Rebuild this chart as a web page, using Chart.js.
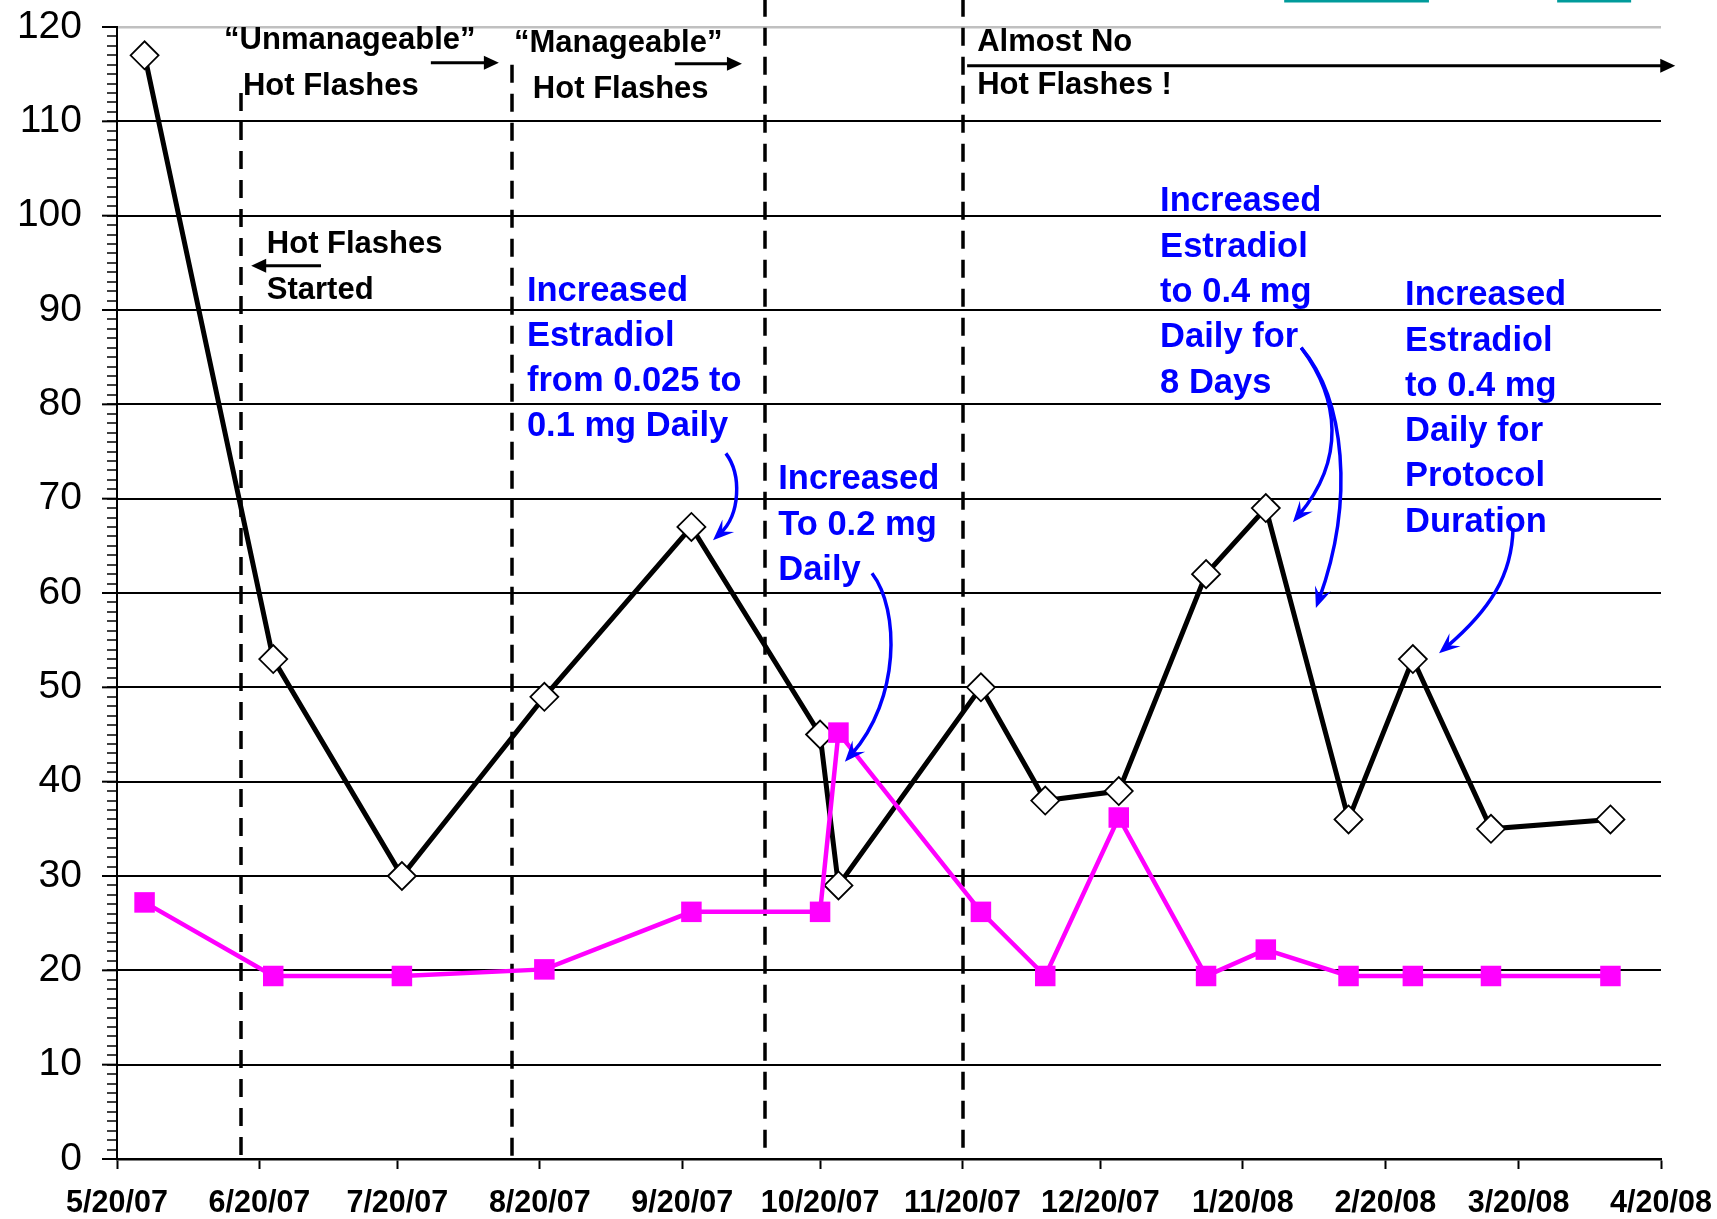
<!DOCTYPE html>
<html>
<head>
<meta charset="utf-8">
<script src="https://cdn.jsdelivr.net/npm/chart.js@4.4.1/dist/chart.umd.min.js"></script>
<style>
  body { margin: 0; background: #fff; }
  #wrap { width: 1717px; height: 1219px; }
</style>
</head>
<body>
<div id="wrap"><canvas id="chart" width="1717" height="1219"></canvas></div>
<script>
// visit dates and the two measured series
const visitDates = ['5/26/07', '6/23/07', '7/21/07', '8/21/07', '9/22/07', '10/20/07', '10/24/07', '11/24/07',
                    '12/8/07', '12/24/07', '1/12/08', '1/25/08', '2/12/08', '2/26/08', '3/14/08', '4/9/08'];
const hotFlashValues = [117, 53, 30, 49, 67, 45, 29, 50, 38, 39, 62, 69, 36, 53, 35, 36];
const magentaValues = [27.2, 19.4, 19.4, 20.1, 26.2, 26.2, 45.2, 26.2, 19.4, 36.2, 19.4, 22.2, 19.4, 19.4, 19.4, 19.4];

// x axis tick labels (one per month)
const tickDates = ['5/20/07', '6/20/07', '7/20/07', '8/20/07', '9/20/07', '10/20/07', '11/20/07', '12/20/07',
                   '1/20/08', '2/20/08', '3/20/08', '4/20/08'];

// dashed phase separators
const phaseDates = ['6/16/07', '8/14/07', '10/8/07', '11/20/07'];
const phaseTops = [113, 116, 123, 123];

const FONT = '"Liberation Sans", Arial, sans-serif';

function dayOf(s) {
  const [m, d, y] = s.split('/').map(Number);
  return (Date.UTC(2000 + y, m - 1, d) - Date.UTC(2007, 4, 20)) / 86400000;
}
const tickDays = tickDates.map(dayOf);
const visitDays = visitDates.map(dayOf);

// annotation text, positions in [day, value]
const blackNotes = [
  { t: '\u201cUnmanageable\u201d', d: 23.3, v: 118.6 },
  { t: 'Hot Flashes', d: 27.4, v: 113.7 },
  { t: '\u201cManageable\u201d', d: 86.4, v: 118.3 },
  { t: 'Hot Flashes', d: 90.5, v: 113.4 },
  { t: 'Almost No', d: 187.2, v: 118.4 },
  { t: 'Hot Flashes !', d: 187.2, v: 113.8 },
  { t: 'Hot Flashes', d: 32.6, v: 97.0 },
  { t: 'Started', d: 32.6, v: 92.1 }
];
const blackArrows = [
  { from: [68.3, 116.2], to: [83.1, 116.2] },
  { from: [121.4, 116.1], to: [136.0, 116.1] },
  { from: [185.0, 115.9], to: [339.1, 115.9] },
  { from: [44.4, 94.7], to: [29.2, 94.7] }
];
const blueNotes = [
  { lines: ['Increased', 'Estradiol', 'from 0.025 to', '0.1 mg Daily'], d: 89.2, v: 92.0, step: 4.8 },
  { lines: ['Increased', 'To 0.2 mg', 'Daily'], d: 143.9, v: 72.0, step: 4.8 },
  { lines: ['Increased', 'Estradiol', 'to 0.4 mg', 'Daily for', '8 Days'], d: 227.0, v: 101.5, step: 4.82 },
  { lines: ['Increased', 'Estradiol', 'to 0.4 mg', 'Daily for', 'Protocol', 'Duration'], d: 280.3, v: 91.5, step: 4.8 }
];
// cubic curves: start, control 1, control 2, tip
const blueArrows = [
  [[132.5, 74.8], [136.0, 72.5], [135.6, 68.3], [129.7, 65.6]],
  [[164.3, 62.1], [170.4, 58.2], [170.4, 48.7], [158.4, 42.1]],
  [[257.7, 86.0], [266.2, 80.5], [267.2, 74.1], [255.9, 67.5]],
  [[257.7, 86.0], [267.2, 80.5], [269.4, 69.9], [260.9, 58.4]],
  [[303.8, 66.9], [303.6, 61.9], [298.8, 58.2], [287.7, 53.6]]
];

function arrowHead(ctx, x, y, ang, len, wid, notch, color) {
  ctx.save();
  ctx.translate(x, y);
  ctx.rotate(ang);
  ctx.beginPath();
  ctx.moveTo(0, 0);
  ctx.lineTo(-len, -wid / 2);
  ctx.lineTo(-len * notch, 0);
  ctx.lineTo(-len, wid / 2);
  ctx.closePath();
  ctx.fillStyle = color;
  ctx.fill();
  ctx.restore();
}

const notesPlugin = {
  id: 'notes',
  beforeDatasetsDraw(chart) {
    const { ctx, scales: { x, y } } = chart;
    ctx.save();
    ctx.strokeStyle = '#000';
    ctx.lineWidth = 3.5;
    ctx.setLineDash([18, 11]);
    phaseDates.forEach((p, i) => {
      const px = Math.round(x.getPixelForValue(dayOf(p)));
      ctx.beginPath();
      ctx.moveTo(px, y.getPixelForValue(phaseTops[i]));
      ctx.lineTo(px, y.getPixelForValue(0));
      ctx.stroke();
    });
    ctx.restore();
  },
  afterDraw(chart) {
    const { ctx, scales: { x, y } } = chart;
    const P = (d, v) => [x.getPixelForValue(d), y.getPixelForValue(v)];
    ctx.save();

    // longer major ticks on the value axis
    ctx.strokeStyle = '#000';
    ctx.lineWidth = 2;
    for (let v = 0; v <= 120; v += 10) {
      const py = y.getPixelForValue(v);
      ctx.beginPath();
      ctx.moveTo(x.left - 15, py);
      ctx.lineTo(x.left, py);
      ctx.stroke();
    }

    // black labels and arrows
    ctx.fillStyle = '#000';
    ctx.font = 'bold 31px ' + FONT;
    ctx.textBaseline = 'middle';
    blackNotes.forEach(n => {
      const [px, py] = P(n.d, n.v);
      ctx.fillText(n.t, px, py);
    });
    ctx.lineWidth = 3;
    blackArrows.forEach(a => {
      const [x0, y0] = P(a.from[0], a.from[1]);
      const [x1, y1] = P(a.to[0], a.to[1]);
      const ang = Math.atan2(y1 - y0, x1 - x0);
      ctx.beginPath();
      ctx.moveTo(x0, y0);
      ctx.lineTo(x1 - Math.cos(ang) * 12, y1 - Math.sin(ang) * 12);
      ctx.stroke();
      arrowHead(ctx, x1, y1, ang, 15, 14, 1, '#000');
    });

    // blue notes
    ctx.fillStyle = '#0000ff';
    ctx.font = 'bold 34.5px ' + FONT;
    blueNotes.forEach(n => {
      n.lines.forEach((line, i) => {
        const [px, py] = P(n.d, n.v - i * n.step);
        ctx.fillText(line, px, py);
      });
    });
    ctx.strokeStyle = '#0000ff';
    ctx.lineWidth = 3.5;
    blueArrows.forEach(c => {
      const pts = c.map(p => P(p[0], p[1]));
      const ang = Math.atan2(pts[3][1] - pts[2][1], pts[3][0] - pts[2][0]);
      const end = [pts[3][0] - Math.cos(ang) * 10, pts[3][1] - Math.sin(ang) * 10];
      ctx.beginPath();
      ctx.moveTo(pts[0][0], pts[0][1]);
      ctx.bezierCurveTo(pts[1][0], pts[1][1], pts[2][0], pts[2][1], end[0], end[1]);
      ctx.stroke();
      arrowHead(ctx, pts[3][0], pts[3][1], ang, 21, 17, 0.6, '#0000ff');
    });

    // cropped teal underlines at the very top
    ctx.fillStyle = '#009b9b';
    [[254, 285.5], [313.4, 329.5]].forEach(r => {
      const a = x.getPixelForValue(r[0]);
      const b = x.getPixelForValue(r[1]);
      ctx.fillRect(a, 0, b - a, 2.5);
    });
    ctx.restore();
  }
};

new Chart(document.getElementById('chart'), {
  type: 'line',
  data: {
    datasets: [
      {
        data: visitDays.map((d, i) => ({ x: d, y: magentaValues[i] })),
        borderColor: '#ff00ff',
        borderWidth: 4.5,
        pointStyle: 'rect',
        pointRadius: 14.5,
        pointBackgroundColor: '#ff00ff',
        pointBorderColor: '#ff00ff',
        pointBorderWidth: 0,
        tension: 0
      },
      {
        data: visitDays.map((d, i) => ({ x: d, y: hotFlashValues[i] })),
        borderColor: '#000',
        borderWidth: 5,
        pointStyle: 'rectRot',
        pointRadius: 14,
        pointBackgroundColor: '#fff',
        pointBorderColor: '#000',
        pointBorderWidth: 1.8,
        tension: 0
      }
    ]
  },
  options: {
    responsive: false,
    animation: false,
    layout: { padding: { top: 27, right: 56, left: 0, bottom: 0 } },
    plugins: {
      legend: { display: false },
      tooltip: { enabled: false }
    },
    scales: {
      x: {
        type: 'linear',
        min: tickDays[0],
        max: tickDays[tickDays.length - 1],
        afterBuildTicks: s => { s.ticks = tickDays.map(v => ({ value: v })); },
        afterFit: s => { s.height = 60; s.paddingLeft = 0; s.paddingRight = 0; },
        ticks: {
          autoSkip: false,
          maxRotation: 0,
          padding: 16,
          color: '#000',
          font: { family: FONT, size: 30.5, weight: 'bold' },
          callback: (v, i) => tickDates[i]
        },
        grid: { drawOnChartArea: false, tickLength: 10, tickColor: '#000', tickWidth: 2 },
        border: { color: '#000', width: 2.5 }
      },
      y: {
        min: 0,
        max: 120,
        afterBuildTicks: s => {
          const t = [];
          for (let v = 0; v <= 120; v++) t.push({ value: v });
          s.ticks = t;
        },
        afterFit: s => { s.width = 117; s.paddingTop = 0; s.paddingBottom = 0; },
        ticks: {
          autoSkip: false,
          padding: 25,
          color: '#000',
          font: { family: FONT, size: 39 },
          callback: v => (v % 10 === 0 ? String(v) : '')
        },
        grid: {
          color: c => (c.tick.value === 120 ? '#c0c0c0' : (c.tick.value % 10 === 0 ? '#000' : 'rgba(0,0,0,0)')),
          lineWidth: c => (c.tick.value === 120 ? 2.5 : 2),
          tickColor: '#000',
          tickWidth: 1.5,
          tickLength: 10
        },
        border: { color: '#000', width: 2 }
      }
    }
  },
  plugins: [notesPlugin]
});
</script>
</body>
</html>
